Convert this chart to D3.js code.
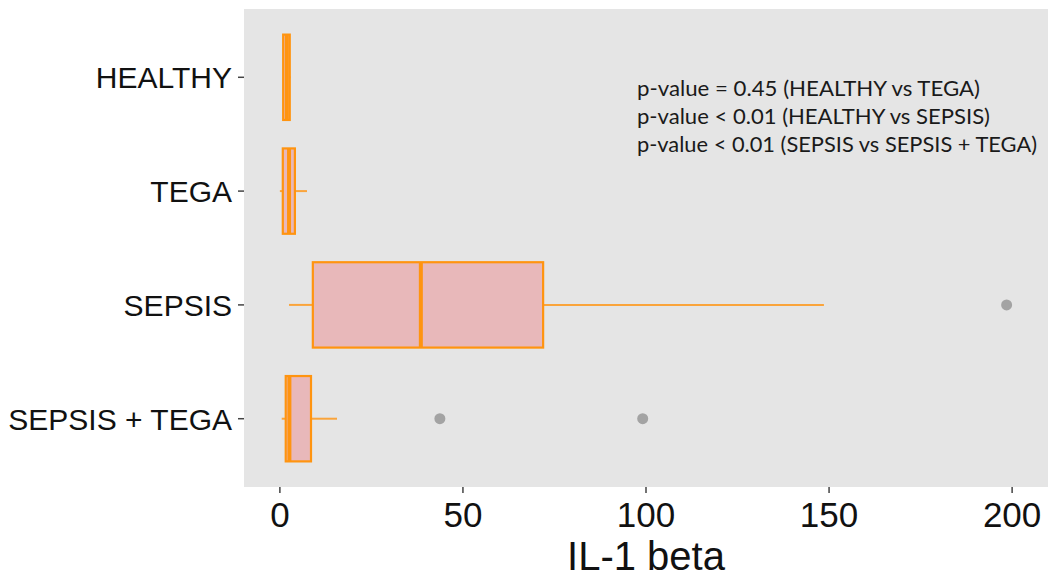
<!DOCTYPE html>
<html>
<head>
<meta charset="utf-8">
<script src="https://cdn.jsdelivr.net/npm/d3@7"></script>
<style>
  body { margin: 0; background: #fff; }
  svg { display: block; }
</style>
</head>
<body>
<div id="chart"></div>
<script>
// box stats (IL-1 beta)
const categories = ["HEALTHY", "TEGA", "SEPSIS", "SEPSIS + TEGA"];
const lowerWhisker = [0.8, 0.0, 2.5, 0.5];
const q1 = [0.9, 0.8, 9.0, 1.6];
const median = [1.9, 2.5, 38.5, 2.6];
const q3 = [2.7, 4.1, 71.9, 8.5];
const upperWhisker = [2.9, 7.4, 148.6, 15.6];
const outliers = [[], [], [198.5], [43.7, 99.1]];

const xTicks = [0, 50, 100, 150, 200];
const xTitle = "IL-1 beta";
const notes = [
    "p-value = 0.45 (HEALTHY vs TEGA)",
    "p-value < 0.01 (HEALTHY vs SEPSIS)",
    "p-value < 0.01 (SEPSIS vs SEPSIS + TEGA)"
];
const noteWidths = [343, 353, 400];

const W = 1051, H = 579;
const panel = {left: 244, right: 1048, top: 9, bottom: 487};

const svg = d3.select("#chart").append("svg")
    .attr("width", W).attr("height", H);

const x = d3.scaleLinear().domain([-9.8, 209.8]).range([panel.left, panel.right]);
const y = d3.scalePoint().domain(categories).range([panel.top, panel.bottom]).padding(0.6);
const boxH = y.step() * 0.75;

svg.append("rect")
    .attr("x", panel.left).attr("y", panel.top)
    .attr("width", panel.right - panel.left).attr("height", panel.bottom - panel.top)
    .attr("fill", "#e5e5e5");

const orange = "#ff9410";

const rows = categories.map((c, i) => ({
    c, lo: lowerWhisker[i], q1: q1[i], med: median[i], q3: q3[i], hi: upperWhisker[i], out: outliers[i]
}));

const g = svg.append("g");
rows.forEach(d => {
    const cy = y(d.c);
    // whiskers
    g.append("line").attr("x1", x(d.lo)).attr("x2", x(d.q1)).attr("y1", cy).attr("y2", cy)
        .attr("stroke", orange).attr("stroke-width", 2).attr("stroke-opacity", 0.8);
    g.append("line").attr("x1", x(d.q3)).attr("x2", x(d.hi)).attr("y1", cy).attr("y2", cy)
        .attr("stroke", orange).attr("stroke-width", 2).attr("stroke-opacity", 0.8);
    // box
    g.append("rect")
        .attr("x", x(d.q1)).attr("y", cy - boxH / 2)
        .attr("width", x(d.q3) - x(d.q1)).attr("height", boxH)
        .attr("fill", "#e8b8ba").attr("stroke", orange).attr("stroke-width", 2.2);
    // median
    g.append("line").attr("x1", x(d.med)).attr("x2", x(d.med))
        .attr("y1", cy - boxH / 2).attr("y2", cy + boxH / 2)
        .attr("stroke", orange).attr("stroke-width", 4);
    // outliers
    d.out.forEach(v => {
        g.append("circle").attr("cx", x(v)).attr("cy", cy).attr("r", 5.5)
            .attr("fill", "#a3a3a3");
    });
});

// y axis
const ya = svg.append("g");
categories.forEach(c => {
    ya.append("line").attr("x1", panel.left - 6).attr("x2", panel.left)
        .attr("y1", y(c)).attr("y2", y(c)).attr("stroke", "#444").attr("stroke-width", 1.5);
    ya.append("text").attr("x", panel.left - 12).attr("y", y(c) + 11)
        .attr("text-anchor", "end")
        .attr("font-family", "Liberation Sans, Arial, sans-serif")
        .attr("font-size", 30).attr("fill", "#111").text(c);
});

// x axis
const xa = svg.append("g");
xTicks.forEach(t => {
    xa.append("line").attr("x1", x(t)).attr("x2", x(t))
        .attr("y1", panel.bottom).attr("y2", panel.bottom + 6)
        .attr("stroke", "#444").attr("stroke-width", 1.5);
    xa.append("text").attr("x", x(t)).attr("y", 527)
        .attr("text-anchor", "middle")
        .attr("font-family", "Liberation Sans, Arial, sans-serif")
        .attr("font-size", 35).attr("fill", "#111").text(t);
});

svg.append("text")
    .attr("x", (panel.left + panel.right) / 2).attr("y", 570)
    .attr("text-anchor", "middle")
    .attr("font-family", "Liberation Sans, Arial, sans-serif")
    .attr("font-size", 40).attr("fill", "#111").text(xTitle);

// p-value notes
notes.forEach((n, i) => {
    svg.append("text")
        .attr("x", 637).attr("y", 96 + i * 28)
        .attr("font-family", "Lato, 'Open Sans', sans-serif")
        .attr("font-size", 21).attr("fill", "#1a1a1a")
        .attr("textLength", noteWidths[i]).attr("lengthAdjust", "spacingAndGlyphs")
        .text(n);
});
</script>
</body>
</html>
